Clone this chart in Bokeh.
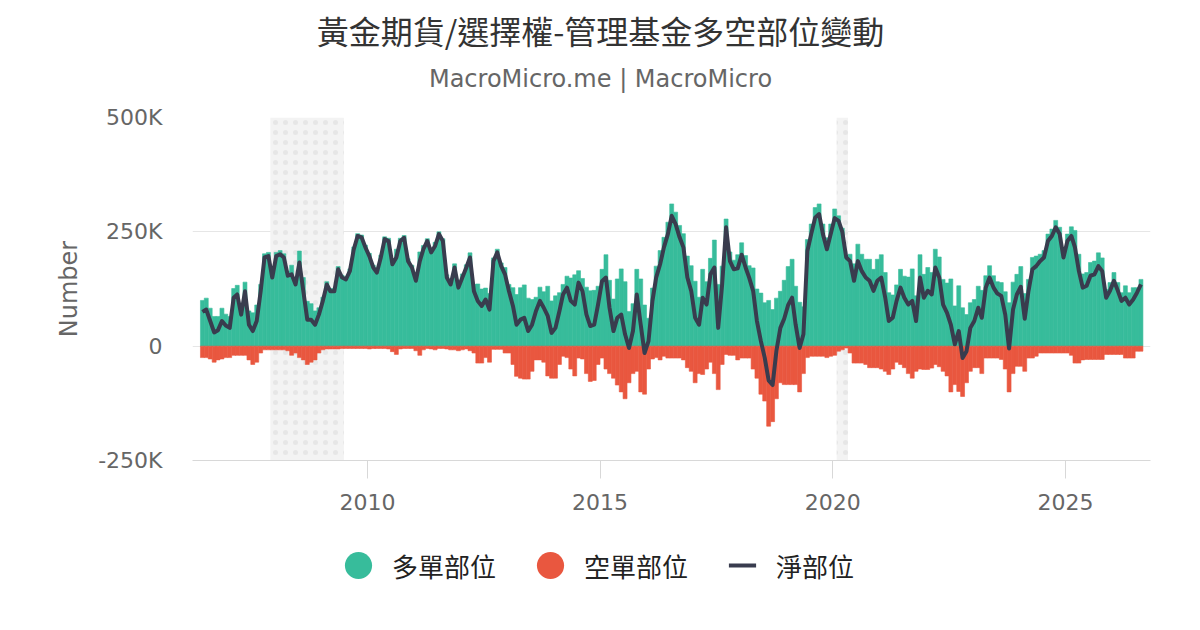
import pandas as pd
from bokeh.plotting import figure
from bokeh.layouts import column
from bokeh.models import (ColumnDataSource, Range1d, FixedTicker, DatetimeTickFormatter,
                          CustomJSTickFormatter, BoxAnnotation, Legend, LegendItem, Label)
from bokeh.embed import file_html
from bokeh.resources import INLINE

# ---- data (monthly, thousands of contracts) ----
first_month = "2006-06-01"
last_month = "2026-08-01"

long_pos = [
    100, 105, 83, 65, 65, 83, 70,                                 # 2006 Jun-Dec
    65, 126, 133, 89, 140, 77, 73, 90, 135, 202, 205, 158,        # 2007
    205, 209, 202, 164, 177, 150, 208, 150, 98, 93, 77, 84,       # 2008
    107, 141, 126, 126, 174, 155, 151, 169, 217, 246, 243, 221,   # 2009
    203, 177, 166, 199, 239, 236, 191, 212, 236, 242, 191, 177,   # 2010
    153, 206, 220, 235, 211, 227, 250, 235, 156, 143, 180, 138,   # 2011
    158, 178, 204, 135, 136, 125, 127, 115, 193, 212, 182, 172,   # 2012
    135, 128, 113, 128, 134, 105, 102, 107, 129, 119, 131, 99,    # 2013
    110, 117, 135, 153, 149, 156, 165, 148, 129, 121, 122, 131,   # 2014
    168, 200, 144, 103, 147, 169, 141, 76, 93, 168, 147, 90,      # 2015
    61, 127, 175, 209, 238, 271, 311, 293, 264, 246, 197, 176,    # 2016
    142, 107, 168, 141, 192, 232, 135, 175, 278, 206, 188, 200,   # 2017
    226, 198, 176, 171, 125, 116, 95, 100, 80, 105, 120, 144,     # 2018
    174, 190, 131, 96, 86, 233, 267, 303, 311, 267, 237, 267,     # 2019
    300, 285, 258, 198, 201, 180, 223, 201, 190, 190, 168, 190,   # 2020
    200, 161, 117, 112, 134, 168, 153, 151, 169, 110, 200, 157,   # 2021
    172, 161, 212, 195, 146, 138, 147, 88, 132, 84, 69, 95,       # 2022
    102, 131, 122, 154, 176, 154, 141, 139, 119, 95, 140, 157,    # 2023
    174, 115, 146, 194, 197, 201, 209, 245, 256, 275, 260, 209,   # 2024
    245, 261, 253, 201, 158, 161, 183, 186, 204, 193, 124, 139,   # 2025
    161, 139, 117, 132, 117, 128, 128, 146,                       # 2026 Jan-Aug
]

short_pos = [
    -25, -25, -28, -35, -30, -28, -25,
    -25, -20, -20, -20, -20, -30, -40, -35, -15, -8, -8, -8,
    -8, -8, -8, -10, -20, -15, -25, -30, -40, -35, -30, -15,
    -8, -6, -6, -6, -6, -5, -5, -5, -5, -5, -5, -5,
    -6, -5, -5, -5, -5, -6, -12, -18, -6, -5, -5, -5,
    -10, -20, -8, -5, -6, -8, -5, -5, -6, -8, -8, -10,
    -8, -6, -10, -15, -37, -37, -25, -35, -7, -7, -7, -15,
    -15, -40, -66, -70, -72, -72, -55, -30, -30, -35, -65, -70,
    -70, -40, -22, -25, -50, -65, -26, -28, -60, -77, -75, -40,
    -26, -50, -60, -70, -85, -100, -115, -80, -60, -55, -100, -105,
    -50, -28, -25, -30, -22, -26, -26, -26, -26, -30, -47, -55,
    -80, -60, -62, -50, -35, -60, -95, -40, -18, -20, -20, -30,
    -26, -26, -26, -50, -70, -105, -120, -175, -165, -115, -80, -84,
    -84, -84, -84, -100, -60, -25, -22, -22, -22, -22, -25, -22,
    -20, -11, -8, -4, -15, -37, -37, -37, -40, -47, -47, -47,
    -50, -55, -62, -50, -35, -40, -47, -60, -70, -55, -50, -51,
    -51, -48, -40, -45, -55, -65, -100, -84, -99, -110, -80, -55,
    -47, -47, -60, -26, -26, -26, -26, -29, -50, -100, -60, -44,
    -44, -55, -26, -26, -22, -15, -15, -15, -15, -15, -15, -15,
    -15, -20, -37, -37, -30, -29, -29, -29, -29, -29, -18, -18,
    -18, -18, -18, -26, -26, -26, -11, -11,
]

net_pos = [
    75, 80, 55, 30, 35, 55, 45,
    40, 106, 113, 69, 120, 47, 33, 55, 120, 194, 197, 150,
    197, 201, 194, 154, 157, 135, 183, 120, 58, 58, 47, 69,
    99, 135, 120, 120, 168, 150, 146, 164, 212, 241, 238, 216,
    197, 172, 161, 194, 234, 230, 179, 194, 230, 237, 186, 172,
    143, 186, 212, 230, 205, 219, 245, 230, 150, 135, 172, 128,
    150, 172, 194, 120, 99, 88, 102, 80, 186, 205, 175, 157,
    120, 88, 47, 58, 62, 33, 47, 77, 99, 84, 66, 29,
    40, 77, 113, 128, 99, 91, 139, 120, 69, 44, 47, 91,
    142, 150, 84, 33, 62, 69, 26, -4, 33, 113, 47, -15,
    11, 99, 150, 179, 216, 245, 285, 267, 238, 216, 150, 121,
    62, 47, 106, 91, 157, 172, 40, 135, 260, 186, 168, 170,
    200, 172, 150, 121, 55, 11, -25, -75, -85, -10, 40, 60,
    90, 106, 47, -4, 26, 208, 245, 281, 289, 245, 212, 245,
    280, 274, 250, 194, 186, 143, 186, 164, 150, 143, 121, 143,
    150, 106, 55, 62, 99, 128, 106, 91, 99, 55, 150, 106,
    121, 113, 172, 150, 91, 73, 47, 4, 33, -26, -11, 40,
    55, 84, 62, 128, 150, 128, 115, 110, 69, -5, 80, 113,
    130, 60, 120, 168, 175, 186, 194, 230, 241, 260, 245, 194,
    230, 241, 216, 164, 128, 132, 154, 157, 175, 164, 106, 121,
    143, 121, 99, 106, 91, 102, 117, 135,
]

recessions = [("2007-12-01", "2009-06-30"), ("2020-02-01", "2020-04-30")]
year_ticks = [2010, 2015, 2020, 2025]
y_ticks = [-250000, 0, 250000, 500000]

title_text = "黃金期貨/選擇權-管理基金多空部位變動"
subtitle_text = "MacroMicro.me | MacroMicro"
labels = ["多單部位", "空單部位", "淨部位"]

LONG_C = "#37bc9b"
SHORT_C = "#e9573f"
NET_C = "#393c4e"
CJK = "Noto Sans CJK TC"
LAT = "DejaVu Sans"
W = 1200
HEAD_H, MAIN_H, FOOT_H = 97, 423, 110
FRAME_LEFT = 192   # the column aligns every child's frame to the chart frame

months = pd.date_range(first_month, last_month, freq="MS")
assert len(months) == len(long_pos) == len(short_pos) == len(net_pos)
mid = months + pd.Timedelta(days=15)

src = ColumnDataSource(dict(
    x=mid,
    long=[v * 1000 for v in long_pos],
    short=[v * 1000 for v in short_pos],
    net=[v * 1000 for v in net_pos],
))

def ms(s):
    return pd.Timestamp(s).timestamp() * 1000

def blank(h):
    f = figure(width=W, height=h, output_backend="svg", toolbar_location=None,
               x_range=Range1d(0, W), y_range=Range1d(0, h),
               x_axis_location=None, y_axis_location=None, min_border=0)
    f.outline_line_color = None
    f.grid.visible = False
    return f

# ---- header with title / subtitle ----
head = blank(HEAD_H)
head.add_layout(Label(x=W / 2 - FRAME_LEFT, y=HEAD_H - 29, x_units="screen", y_units="screen",
                      text=title_text, text_align="center", text_baseline="middle",
                      text_font=CJK, text_font_size="32px", text_color="#333333"))
head.add_layout(Label(x=W / 2 - FRAME_LEFT, y=HEAD_H - 78, x_units="screen", y_units="screen",
                      text=subtitle_text, text_align="center", text_baseline="middle",
                      text_font=LAT, text_font_size="24px", text_color="#666666"))

# ---- main chart ----
p = figure(width=W, height=MAIN_H, x_axis_type="datetime",
           output_backend="svg", toolbar_location=None, title=None,
           x_range=Range1d(ms("2006-03-30"), ms("2026-10-30")),
           y_range=Range1d(-250000, 500000),
           min_border_left=FRAME_LEFT, min_border_right=50,
           min_border_top=20, min_border_bottom=60)
p.outline_line_color = None
p.background_fill_color = "white"

for a, b in recessions:
    p.add_layout(BoxAnnotation(left=ms(a), right=ms(b), fill_color="#f3f3f3",
                               fill_alpha=1.0, line_color=None, level="underlay",
                               hatch_pattern="dot", hatch_color="#dddddd",
                               hatch_scale=10, hatch_weight=1, hatch_alpha=0.6))

bar_w = 31 * 24 * 3600 * 1000
p.vbar(x="x", top="long", bottom=0, width=bar_w, source=src,
       fill_color=LONG_C, line_color=LONG_C, line_width=0.6)
p.vbar(x="x", top=0, bottom="short", width=bar_w, source=src,
       fill_color=SHORT_C, line_color=SHORT_C, line_width=0.6)
p.line(x="x", y="net", source=src, line_width=4, line_color=NET_C,
       line_join="round")

p.xaxis.ticker = FixedTicker(ticks=[ms(f"{y}-01-01") for y in year_ticks])
p.xaxis.formatter = DatetimeTickFormatter(years="%Y", months="%Y", days="%Y")
p.xaxis.axis_line_color = "#d8d8d8"
p.xaxis.major_tick_line_color = "#d8d8d8"
p.xaxis.major_tick_out = 18
p.xaxis.major_tick_in = 0
p.xaxis.minor_tick_line_color = None
p.xaxis.major_label_standoff = 15
p.xaxis.major_label_text_font = LAT
p.xaxis.major_label_text_font_size = "22px"
p.xaxis.major_label_text_color = "#666666"

p.yaxis.ticker = FixedTicker(ticks=y_ticks)
p.yaxis.formatter = CustomJSTickFormatter(
    code="return tick == 0 ? '0' : (tick / 1000) + 'K';")
p.yaxis.axis_line_color = None
p.yaxis.major_tick_line_color = None
p.yaxis.minor_tick_line_color = None
p.yaxis.major_tick_out = 0
p.yaxis.major_tick_in = 0
p.yaxis.major_label_standoff = 30
p.yaxis.major_label_text_font = LAT
p.yaxis.major_label_text_font_size = "22px"
p.yaxis.major_label_text_color = "#666666"
p.yaxis.axis_label = "Number"
p.yaxis.axis_label_text_font = LAT
p.yaxis.axis_label_text_font_size = "24px"
p.yaxis.axis_label_text_font_style = "normal"
p.yaxis.axis_label_text_color = "#666666"
p.yaxis.axis_label_standoff = 12

p.xgrid.visible = False
p.ygrid.ticker = FixedTicker(ticks=y_ticks)
p.ygrid.grid_line_color = "#e6e6e6"
p.ygrid.grid_line_width = 1

# ---- footer with legend (legend glyph sources hold one point outside the view) ----
foot = blank(FOOT_H)
hidden = ColumnDataSource(dict(x=[-1000], y=[-1000]))
r_long = foot.scatter(x="x", y="y", source=hidden, marker="circle", size=27,
                      fill_color=LONG_C, line_color=None)
r_short = foot.scatter(x="x", y="y", source=hidden, marker="circle", size=27,
                       fill_color=SHORT_C, line_color=None)
r_net = foot.scatter(x="x", y="y", source=hidden, marker="dash", size=30,
                     line_color=NET_C, line_width=4)
legend = Legend(items=[LegendItem(label=labels[0], renderers=[r_long]),
                       LegendItem(label=labels[1], renderers=[r_short]),
                       LegendItem(label=labels[2], renderers=[r_net])],
                orientation="horizontal", location=(324 - FRAME_LEFT, 31),
                glyph_width=68, glyph_height=68, label_standoff=0, spacing=20,
                padding=0, margin=0, border_line_color=None,
                background_fill_alpha=0, label_text_font=CJK,
                label_text_font_size="26px", label_text_color="#222222")
foot.add_layout(legend)

layout = column(head, p, foot, spacing=0)
open("out.html", "w").write(file_html(layout, INLINE))
